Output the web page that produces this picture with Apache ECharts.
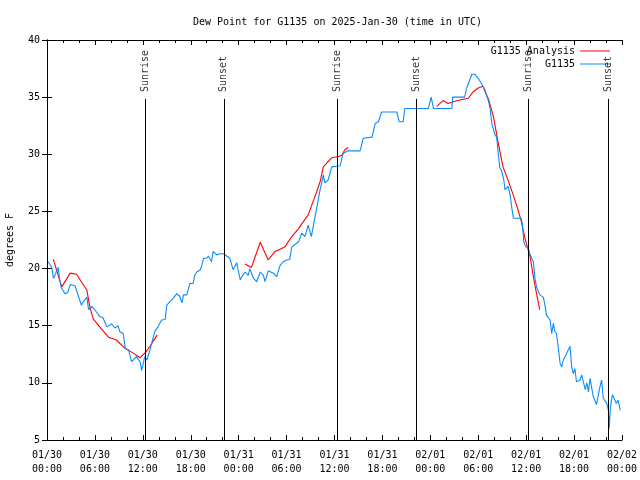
<!DOCTYPE html>
<html>
<head>
<meta charset="utf-8">
<script src="https://cdn.jsdelivr.net/npm/echarts@6/dist/echarts.min.js"></script>
<style>html,body{margin:0;padding:0;background:#fff}#c{width:640px;height:480px}</style>
</head>
<body>
<div id="c"></div>
<script>
// hours since 2025-01-30 00:00 UTC
const xTickLabels = ['01/30\n00:00','01/30\n06:00','01/30\n12:00','01/30\n18:00','01/31\n00:00','01/31\n06:00','01/31\n12:00','01/31\n18:00','02/01\n00:00','02/01\n06:00','02/01\n12:00','02/01\n18:00','02/02\n00:00'];
const sunriseHours = [12.28, 36.33, 60.27];
const sunsetHours = [22.15, 46.25, 70.3];

const observed = [
[0.15,20.6],[0.6,20.1],[0.8,19.15],[1.1,19.6],[1.4,20.1],[1.6,19.0],[1.8,18.3],[2.25,17.8],[2.6,17.9],[2.9,18.6],
[3.5,18.5],[3.7,18.1],[4.3,16.8],[4.55,17.1],[5.0,17.5],[5.2,16.4],[5.6,16.7],[6.2,16.2],[6.6,15.8],[7.0,15.7],
[7.5,14.9],[8.1,15.15],[8.5,14.8],[8.9,15.0],[9.1,14.5],[9.55,14.3],[9.8,13.0],[10.2,12.9],[10.6,11.85],[11.2,12.3],
[11.65,11.85],[11.85,11.1],[12.25,12.3],[12.5,12.0],[12.9,12.9],[13.5,14.5],[13.9,14.9],[14.35,15.5],[14.8,15.55],[15.0,16.8],
[15.4,17.1],[15.8,17.4],[16.25,17.8],[16.6,17.6],[16.9,17.0],[17.1,17.7],[17.5,17.7],[17.9,18.7],[18.3,18.7],[18.5,19.4],
[18.75,19.7],[19.2,19.9],[19.4,20.3],[19.6,20.9],[20.0,20.9],[20.2,21.1],[20.6,20.6],[20.8,21.5],[21.25,21.2],[21.65,21.3],
[22.1,21.3],[22.5,21.1],[22.9,20.9],[23.3,19.9],[23.75,20.5],[24.2,19.0],[24.4,19.3],[24.8,19.7],[25.2,19.4],[25.4,20.0],
[25.85,19.15],[26.25,18.85],[26.7,19.7],[27.1,19.4],[27.3,18.85],[27.7,19.8],[28.35,19.6],[28.75,19.3],[29.2,20.3],[29.6,20.6],
[30.0,20.75],[30.4,20.8],[30.65,21.9],[31.05,22.1],[31.5,22.35],[31.9,23.1],[32.3,22.8],[32.7,23.8],[33.1,22.8],[33.55,24.5],
[33.8,25.4],[34.2,26.9],[34.4,27.5],[34.6,28.2],[34.8,27.5],[35.2,27.75],[35.65,28.9],[36.7,29.0],[37.1,30.1],[37.7,30.3],
[39.2,30.3],[39.6,31.4],[40.7,31.5],[41.1,32.7],[41.5,32.85],[41.9,33.7],[43.8,33.7],[44.1,32.85],[44.6,32.85],[44.8,34.0],
[46.1,34.0],[47.75,34.0],[48.1,35.0],[48.4,34.0],[50.7,34.0],[50.8,35.0],[52.3,35.0],[52.55,35.8],[53.2,37.0],[53.6,37.0],
[54.0,36.65],[54.4,36.2],[54.85,35.6],[55.3,34.6],[55.5,33.9],[55.7,32.7],[56.1,31.7],[56.3,31.5],[56.5,30.1],[56.7,28.8],
[56.9,28.6],[57.2,27.75],[57.35,26.9],[57.75,27.2],[58.0,26.4],[58.2,25.3],[58.4,24.4],[59.4,24.4],[59.55,23.7],[59.7,22.35],
[59.95,21.9],[60.25,21.8],[60.5,21.2],[60.9,20.6],[61.1,19.15],[61.3,18.4],[61.7,17.7],[62.15,17.5],[62.35,16.8],[62.55,15.9],
[63.0,15.5],[63.2,14.3],[63.4,15.2],[63.6,14.5],[63.8,14.3],[64.0,13.2],[64.25,11.7],[64.45,11.4],[64.65,12.0],[65.5,13.2],
[65.7,11.4],[65.9,10.8],[66.1,11.25],[66.3,10.1],[66.75,10.25],[66.95,10.7],[67.15,10.1],[67.4,9.4],[67.6,10.0],[67.8,9.2],
[68.0,10.4],[68.2,10.25],[68.4,8.8],[68.8,8.1],[69.25,9.7],[69.45,10.25],[69.65,8.65],[70.1,8.2],[70.3,7.6],[70.4,6.0],
[70.55,7.9],[70.8,8.95],[71.1,8.5],[71.3,8.2],[71.5,8.5],[71.8,7.6]
];

const analysisSeg1 = [[0.8,20.8],[1.4,19.4],[1.85,18.4],[2.9,19.6],[3.7,19.5],[4.3,18.85],[5.0,18.1],[5.4,16.5],[5.8,15.6],[6.6,14.9],[7.7,14.0],[8.7,13.75],[9.8,13.0],[10.8,12.6],[11.65,12.2],[12.3,12.65],[12.9,13.2],[13.8,14.2]];
const analysisSeg2 = [[24.8,20.4],[25.6,20.1],[26.7,22.3],[27.7,20.75],[28.55,21.5],[29.2,21.7],[29.8,21.9],[30.65,22.8],[31.5,23.5],[32.7,24.7],[33.55,26.3],[34.2,27.6],[34.6,28.9],[35.0,29.2],[35.65,29.7],[36.5,29.8],[36.9,29.9],[37.3,30.4],[37.7,30.6]];
const analysisSeg3 = [[48.8,34.2],[49.6,34.7],[50.2,34.45],[50.9,34.6],[51.7,34.75],[52.75,34.9],[53.4,35.5],[54.0,35.8],[54.6,35.95],[54.85,35.5],[55.3,34.8],[55.9,33.3],[56.5,31.0],[57.1,28.9],[57.75,27.7],[58.4,26.4],[59.0,25.1],[59.4,24.1],[59.85,22.65],[60.15,21.9],[60.5,21.0],[60.9,19.3],[61.3,17.8],[61.7,16.4]];

const FONT = 'DejaVu Sans Mono';
const RED = '#ff0000', BLUE = '#0a8cff';
const LINE_TOP = 34.85, LABEL_BASE = 35.45;

function redSeries(d){
  return {name:'G1135 Analysis', type:'line', data:d, showSymbol:false, symbol:'none',
    lineStyle:{color:RED,width:1.1}, itemStyle:{color:RED}, z:2};
}
const axisCommon = {
  axisLine:{lineStyle:{color:'#000',width:1}},
  axisTick:{inside:true,length:5,lineStyle:{color:'#000'}},
  splitLine:{show:false}
};
const legendCommon = {right:30, align:'right', icon:'rect', itemWidth:30, itemHeight:1, itemGap:0,
  padding:0, textStyle:{fontFamily:FONT,fontSize:10,color:'#000'}, selectedMode:false};

const chart = echarts.init(document.getElementById('c'));
chart.setOption({
  animation:false,
  backgroundColor:'#fff',
  title:{text:'Dew Point for G1135 on 2025-Jan-30 (time in UTC)', left:188, top:12,
    textStyle:{fontFamily:FONT,fontSize:10,fontWeight:'normal',color:'#000'}},
  grid:{left:47,right:18,top:40,bottom:40,containLabel:false,outerBoundsMode:'none'},
  legend:[
    Object.assign({data:['G1135 Analysis'], top:46}, legendCommon),
    Object.assign({data:['G1135'], top:59}, legendCommon)
  ],
  xAxis:[
    Object.assign({type:'value',min:0,max:72,interval:6,position:'bottom',
      minorTick:{show:true,splitNumber:3,length:3,lineStyle:{color:'#000'}},
      axisLabel:{formatter:v=>xTickLabels[Math.round(v/6)],fontFamily:FONT,fontSize:10,color:'#000',margin:8,lineHeight:14}},
      axisCommon),
    Object.assign({type:'value',min:0,max:72,interval:6,position:'top',
      minorTick:{show:true,splitNumber:3,length:3,lineStyle:{color:'#000'}},
      axisLabel:{show:false}}, axisCommon)
  ],
  yAxis:[
    Object.assign({type:'value',min:5,max:40,interval:5,position:'left',
      name:'degrees F',nameLocation:'middle',nameGap:32,
      nameTextStyle:{fontFamily:FONT,fontSize:10,color:'#000'},
      axisLabel:{fontFamily:FONT,fontSize:10,color:'#000',margin:7}}, axisCommon),
    Object.assign({type:'value',min:5,max:40,interval:5,position:'right',
      axisLabel:{show:false}}, axisCommon)
  ],
  series:[
    redSeries(analysisSeg1), redSeries(analysisSeg2), redSeries(analysisSeg3),
    {name:'G1135', type:'line', data:observed, showSymbol:false, symbol:'none',
      lineStyle:{color:BLUE,width:1.1}, itemStyle:{color:BLUE}, z:3},
    {name:'sun', type:'scatter', symbolSize:0, silent:true, z:4,
      data: sunriseHours.map(h=>({value:[h,LABEL_BASE],label:{formatter:'Sunrise'}}))
        .concat(sunsetHours.map(h=>({value:[h,LABEL_BASE],label:{formatter:'Sunset'}}))),
      label:{show:true,position:'inside',rotate:90,align:'left',verticalAlign:'middle',
        fontFamily:FONT,fontSize:10,color:'#000'},
      markLine:{silent:true,symbol:['none','none'],label:{show:false},
        lineStyle:{color:'#000',width:1,type:'solid'},
        data: sunriseHours.concat(sunsetHours).map(h=>[{coord:[h,LINE_TOP]},{coord:[h,5]}])}
    }
  ]
});
</script>
</body>
</html>
